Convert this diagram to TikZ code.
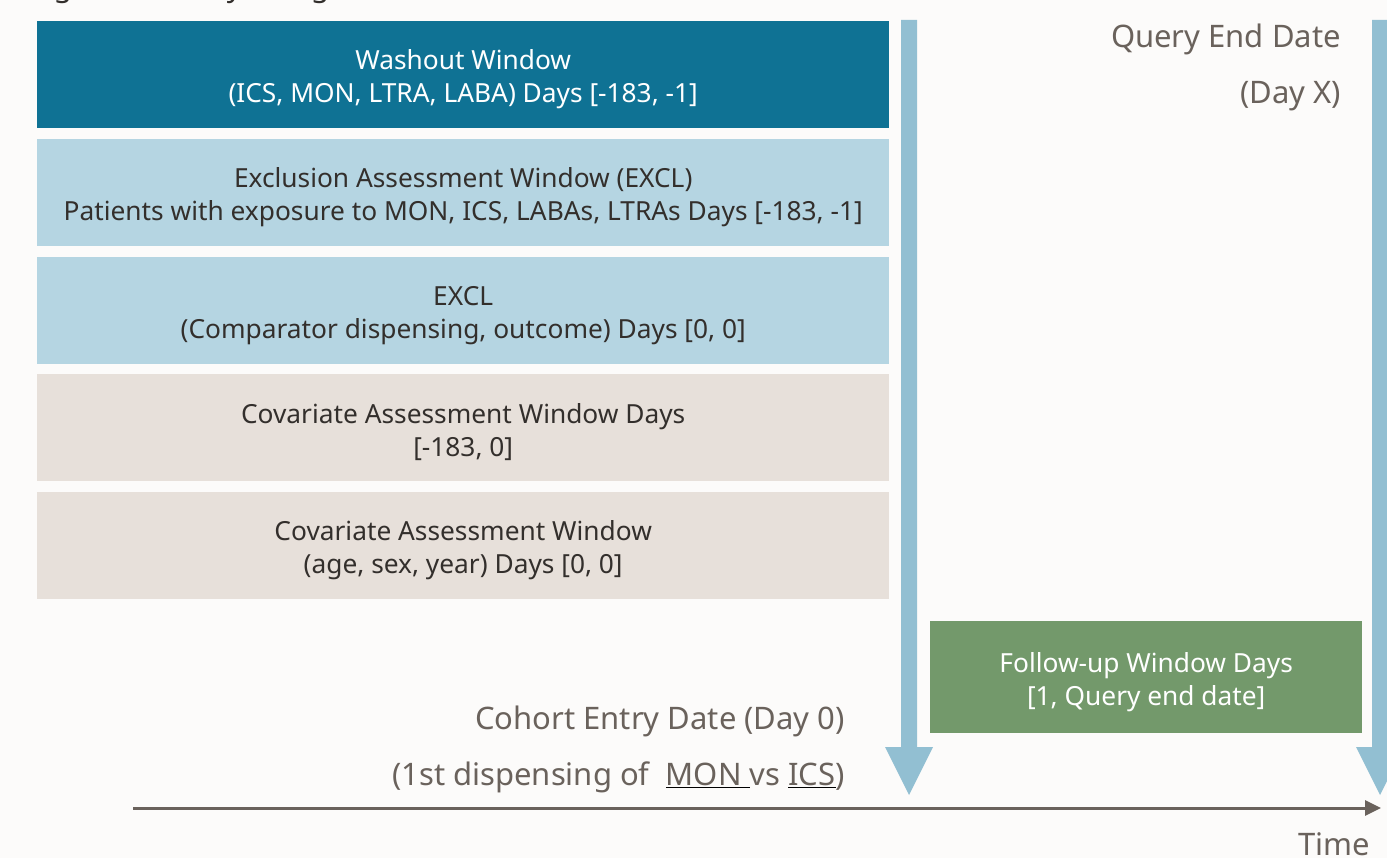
\documentclass[tikz,border=0pt]{standalone}
\usepackage{fontspec}
\setmainfont{Noto Sans}
\usetikzlibrary{arrows.meta}
\definecolor{bg}{HTML}{FCFBFA}
\definecolor{tealdark}{HTML}{0F7294}
\definecolor{lightblue}{HTML}{B5D5E2}
\definecolor{beige}{HTML}{E7E0DA}
\definecolor{greenbox}{HTML}{73996B}
\definecolor{arrowblue}{HTML}{92BFD2}
\definecolor{txtgrey}{HTML}{6A625C}
\definecolor{txtdark}{HTML}{332F2C}
\newcommand\mytoppad{\rule{0pt}{29.5pt}}
\tikzset{
  winbox/.style={anchor=north west, minimum width=852pt, minimum height=107pt, inner sep=0pt, align=center, font=\fontsize{26.3}{33}\selectfont},
  outtext/.style={text=txtgrey, inner sep=0pt, font=\fontsize{31}{31}\selectfont},
  blockarrow/.style={fill=arrowblue}
}
\begin{document}
\begin{tikzpicture}[x=1pt,y=-1pt]
\useasboundingbox[fill=bg] (0,0) rectangle (1387,858);
% title, cut off at the top edge as in the reference
\node[anchor=base west, inner sep=0pt, text=txtdark, font=\bfseries\fontsize{30}{30}\selectfont] (title) at (30,-3.5) {Figure 1: Study Design};
% windows
\node[winbox, fill=tealdark, text=white] (wash) at (37,21) {\mytoppad Washout Window\\(ICS, MON, LTRA, LABA) Days [-183, -1]};
\node[winbox, fill=lightblue, text=txtdark] (excl1) at (37,139) {\mytoppad Exclusion Assessment Window (EXCL)\\Patients with exposure to MON, ICS, LABAs, LTRAs Days [-183, -1]};
\node[winbox, fill=lightblue, text=txtdark] (excl2) at (37,257) {\mytoppad EXCL\\(Comparator dispensing, outcome) Days [0, 0]};
\node[winbox, fill=beige, text=txtdark] (cov1) at (37,374) {\mytoppad Covariate Assessment Window Days\\{}[-183, 0]};
\node[winbox, fill=beige, text=txtdark] (cov2) at (37,492) {\mytoppad Covariate Assessment Window\\(age, sex, year) Days [0, 0]};
\node[winbox, minimum width=432pt, minimum height=112pt, fill=greenbox, text=white] (follow) at (930,621) {\mytoppad Follow-up Window Days\\{}[1, Query end date]};
% block arrows
\fill[blockarrow] (901,20) -- (917,20) -- (917,747) -- (933,747) -- (909,795) -- (885,747) -- (901,747) -- cycle;
\fill[blockarrow] (1372,20) -- (1388,20) -- (1388,747) -- (1404,747) -- (1380,795) -- (1356,747) -- (1372,747) -- cycle;
% timeline
\coordinate (tstart) at (133,808);
\coordinate (tend) at (1381,808);
\draw[txtgrey, line width=3pt, -{Triangle[length=16pt,width=15pt]}] (tstart) -- (tend);
% labels
\node[outtext, anchor=base east] (qed) at (1341,48) {Query End Date};
\node[outtext, anchor=base east] (dayx) at (1341,104) {(Day X)};
\node[outtext, anchor=base east] (ced) at (845,729) {Cohort Entry Date (Day 0)};
\node[outtext, anchor=base east] (disp) at (845,785) {(1st dispensing of \ {\color{black}\underline{\color{txtgrey}MON\ }}vs {\color{black}\underline{\color{txtgrey}ICS}})};
\node[outtext, anchor=base east] (time) at (1370,855) {Time};
\end{tikzpicture}
\end{document}
